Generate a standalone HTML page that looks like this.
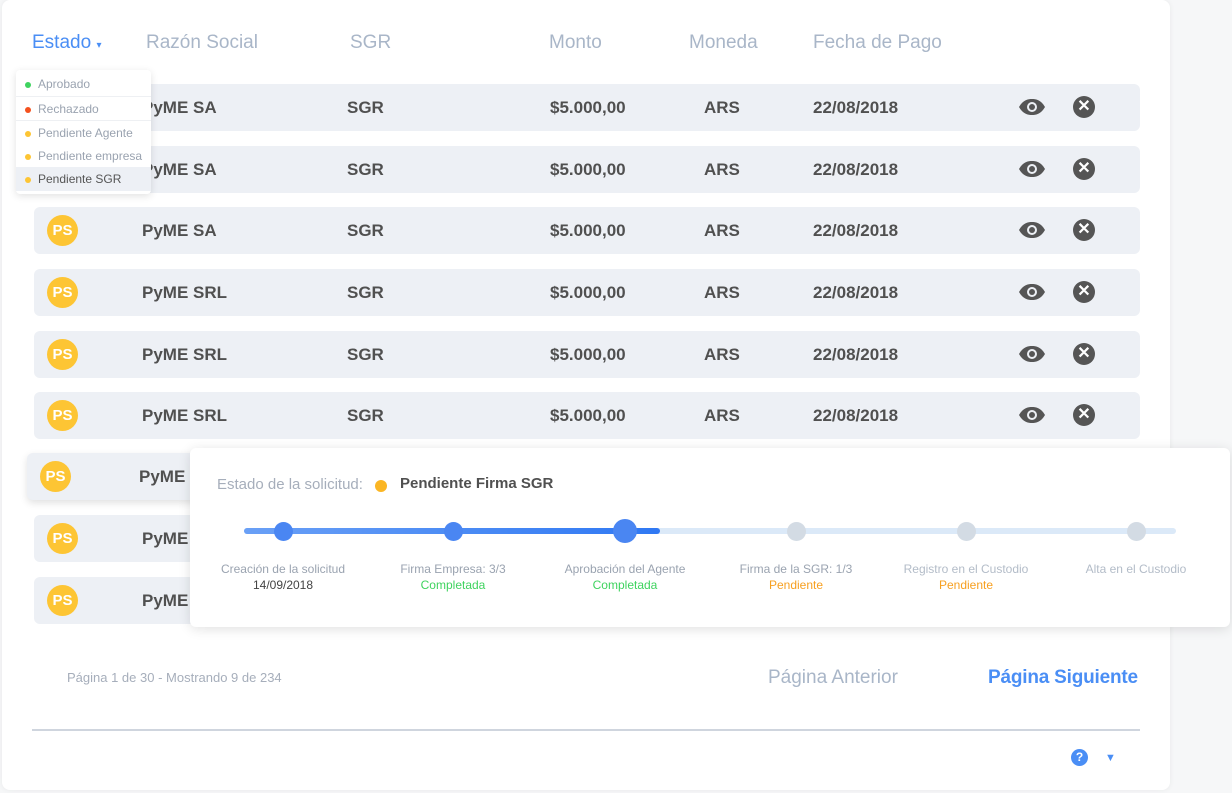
<!DOCTYPE html>
<html><head><meta charset="utf-8">
<style>
*{margin:0;padding:0;box-sizing:border-box}
body{width:1232px;height:793px;background:#f6f7f8;font-family:"Liberation Sans",sans-serif;position:relative;overflow:hidden}
.card{position:absolute;left:2px;top:0;width:1168px;height:790px;background:#fff;border-radius:8px;box-shadow:0 0 6px rgba(0,0,0,.06)}
.a{position:absolute;white-space:nowrap}
.h{top:32px;font-size:19px;color:#a9b6c8}
.row{position:absolute;left:34px;width:1106px;height:47px;background:#edf0f5;border-radius:6px}
.row span{position:absolute;top:14px;font-size:17px;font-weight:bold;color:#505050}
.av{position:absolute;left:13px;top:8px;width:31px;height:31px;border-radius:50%;background:#fdc534;color:#fff;font-weight:bold;font-size:15px;text-align:center;line-height:31px}
.eye{position:absolute;left:984px;top:14px}
.x{position:absolute;left:1039px;top:12px;width:22px;height:22px;border-radius:50%;background:#555;color:#fff;text-align:center;line-height:22px;font-size:16px;font-weight:bold}
.dd{position:absolute;left:16px;top:70px;width:135px;height:124px;background:#fff;border-radius:4px;box-shadow:0 2px 8px rgba(0,0,0,.12)}
.dd div{position:absolute;left:0;width:135px;height:24px;font-size:12px;color:#9aa3b0;padding-left:22px;line-height:24px}
.dd i{position:absolute;left:9px;top:10px;width:6px;height:6px;border-radius:50%}
.pop{position:absolute;left:190px;top:448px;width:1040px;height:179px;background:#fff;border-radius:6px;box-shadow:0 2px 12px rgba(0,0,0,.12)}
.lab{position:absolute;top:113px;width:200px;margin-left:-100px;text-align:center;font-size:12px;color:#9aa3b0;line-height:16px}
.dot{position:absolute;top:74px;width:19px;height:19px;margin-left:-9.5px;border-radius:50%}
</style></head><body>
<div class="card">
<div class="a h" style="left:30px;color:#4a8ef5">Estado <span style="font-size:10px">▾</span></div>
<div class="a h" style="left:144px">Razón Social</div>
<div class="a h" style="left:348px">SGR</div>
<div class="a h" style="left:547px">Monto</div>
<div class="a h" style="left:687px">Moneda</div>
<div class="a h" style="left:811px">Fecha de Pago</div>
<div id="rows"></div>
<div class="a" style="left:65px;top:670px;font-size:13px;color:#a6aebb">Página 1 de 30 - Mostrando 9 de 234</div>
<div class="a" style="left:766px;top:667px;font-size:19px;color:#a9b6c8">Página Anterior</div>
<div class="a" style="left:986px;top:667px;font-size:19px;color:#4a8ef5;font-weight:bold;letter-spacing:-0.2px">Página Siguiente</div>
<div class="a" style="left:30px;top:729px;width:1108px;height:2px;background:#cfd5de"></div>
<div class="a" style="left:1069px;top:749px;width:17px;height:17px;border-radius:50%;background:#4a8ef5;color:#fff;font-size:12px;font-weight:bold;text-align:center;line-height:17px">?</div>
<div class="a" style="left:1103px;top:752px;font-size:11px;color:#4a8ef5">▼</div>
</div>
<div class="dd">
<div style="top:2px"><i style="background:#3fd35f"></i>Aprobado</div>
<div style="top:26px;border-top:1px solid #eef0f3"><i style="background:#f4511e"></i>Rechazado</div>
<div style="top:50px;border-top:1px solid #eef0f3"><i style="background:#fdc534"></i>Pendiente Agente</div>
<div style="top:74px"><i style="background:#fdc534"></i>Pendiente empresa</div>
<div style="top:97px;background:#edf0f5;color:#555"><i style="background:#fdc534"></i>Pendiente SGR</div>
</div>
<div class="pop">
<div class="a" style="left:27px;top:28px;font-size:15px;color:#a6aebb">Estado de la solicitud:</div>
<div class="a" style="left:185px;top:32px;width:12px;height:12px;border-radius:50%;background:#fbb624"></div>
<div class="a" style="left:210px;top:27px;font-size:15px;font-weight:bold;color:#505050">Pendiente Firma SGR</div>
<div class="a" style="left:54px;top:80px;width:932px;height:6px;border-radius:3px;background:#dbe9f8"></div>
<div class="a" style="left:54px;top:80px;width:416px;height:6px;border-radius:3px;background:linear-gradient(90deg,#6aa0f6,#2f78f3)"></div>
<div class="dot" style="left:93px;background:#4a86f2"></div>
<div class="dot" style="left:263px;background:#4a86f2"></div>
<div class="dot" style="left:435px;top:71px;width:24px;height:24px;margin-left:-12px;background:#4a86f2"></div>
<div class="dot" style="left:606px;background:#d3dbe4"></div>
<div class="dot" style="left:776px;background:#d3dbe4"></div>
<div class="dot" style="left:946px;background:#d3dbe4"></div>
<div class="lab" style="left:93px">Creación de la solicitud<br><span style="color:#444">14/09/2018</span></div>
<div class="lab" style="left:263px">Firma Empresa: 3/3<br><span style="color:#3fd35f">Completada</span></div>
<div class="lab" style="left:435px">Aprobación del Agente<br><span style="color:#3fd35f">Completada</span></div>
<div class="lab" style="left:606px">Firma de la SGR: 1/3<br><span style="color:#f7a021">Pendiente</span></div>
<div class="lab" style="left:776px;color:#b3bcc8">Registro en el Custodio<br><span style="color:#f7a021">Pendiente</span></div>
<div class="lab" style="left:946px;color:#b3bcc8">Alta en el Custodio</div>
</div>
<script>
var tops=[84,146,207,269,331,392,453,515,577],names=["PyME SA","PyME SA","PyME SA","PyME SRL","PyME SRL","PyME SRL","PyME","PyME","PyME"],h="";
var eye='<svg width="28" height="18" viewBox="0 0 28 18"><path d="M1 9C5 2 10 1 14 1s9 1 13 8c-4 7-9 8-13 8S5 16 1 9z" fill="#555"/><circle cx="14" cy="9" r="5" fill="#edf0f5"/><circle cx="14" cy="9" r="3" fill="#555"/></svg>';
tops.forEach(function(t,i){
 var l=i==6?27:34,sh=i==6?'box-shadow:0 3px 8px rgba(0,0,0,.12);':'';
 h+='<div class="row" style="top:'+t+'px;left:'+(l-2)+'px;'+sh+'">'+(i>1?'<div class="av">PS</div>':'')+'<span style="left:'+(i==6?112:108)+'px">'+names[i]+'</span>';
 if(i<6)h+='<span style="left:313px">SGR</span><span style="left:516px">$5.000,00</span><span style="left:670px">ARS</span><span style="left:779px">22/08/2018</span><div class="eye">'+eye+'</div><div class="x">✕</div>';
 h+='</div>';
});
document.getElementById('rows').innerHTML=h;
</script>
</body></html>
